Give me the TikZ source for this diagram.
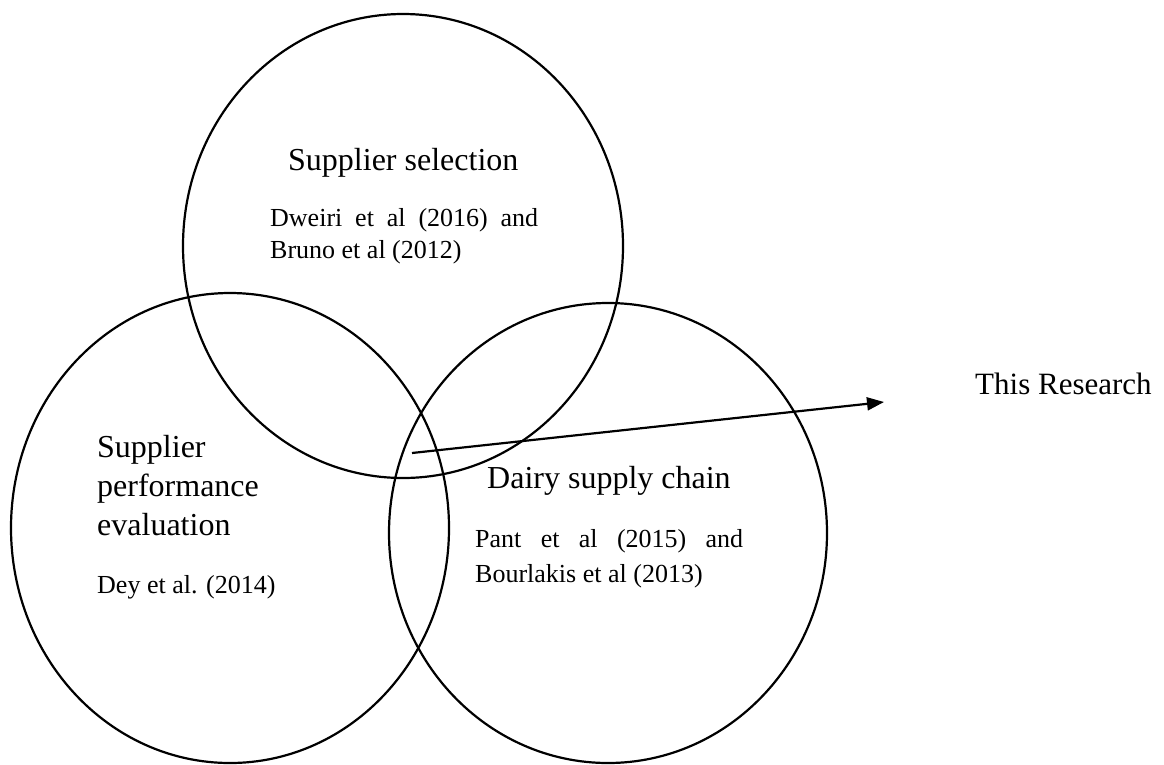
\documentclass[tikz,border=0pt]{standalone}
\usepackage{fontspec}
\setmainfont{Liberation Serif}
\usetikzlibrary{arrows.meta}

\begin{document}
\begin{tikzpicture}[x=1pt,y=1pt,yscale=-1,xscale=1]
\tikzset{
  ring/.style={line width=2.2},
  head/.style={font=\fontsize{32}{39}\selectfont, anchor=base west, inner sep=0pt, align=left},
  refs/.style={font=\fontsize{26}{32}\selectfont, anchor=base west, inner sep=0pt, align=left},
}
\useasboundingbox (0,0) rectangle (1164,764);

%Circles
\draw [ring] (403,246) ellipse [x radius=220, y radius=232];
\draw [ring] (230,528) ellipse [x radius=219, y radius=235];
\draw [ring] (608,533) ellipse [x radius=219, y radius=230];

% Text Node
\node (selhead) [head] at (288,170) {Supplier selection};
% Text Node
\node (selrefs) [refs] at (270,258) {\makebox[268pt][s]{Dweiri et al (2016) and}\\Bruno et al (2012)};
% Text Node
\node (perfhead) [head] at (97,535) {Supplier\\performance\\evaluation};
% Text Node
\node (perfrefs) [refs] at (97,593) {Dey et al. (2014)};
% Text Node
\node (dairyhead) [head] at (487,488) {Dairy supply chain};
% Text Node
\node (dairyrefs) [refs, font=\fontsize{26}{35}\selectfont] at (475,582) {\makebox[268pt][s]{Pant et al (2015) and}\\Bourlakis et al (2013)};
% Text Node
\node (research) [head, font=\fontsize{31}{37}\selectfont] at (975,394) {This Research};

%Straight Lines
\coordinate (from) at (412,453);
\coordinate (to) at (884,402);
\draw [line width=2.2, -{Triangle[length=17,width=13]}] (from) -- (to);

\end{tikzpicture}
\end{document}
